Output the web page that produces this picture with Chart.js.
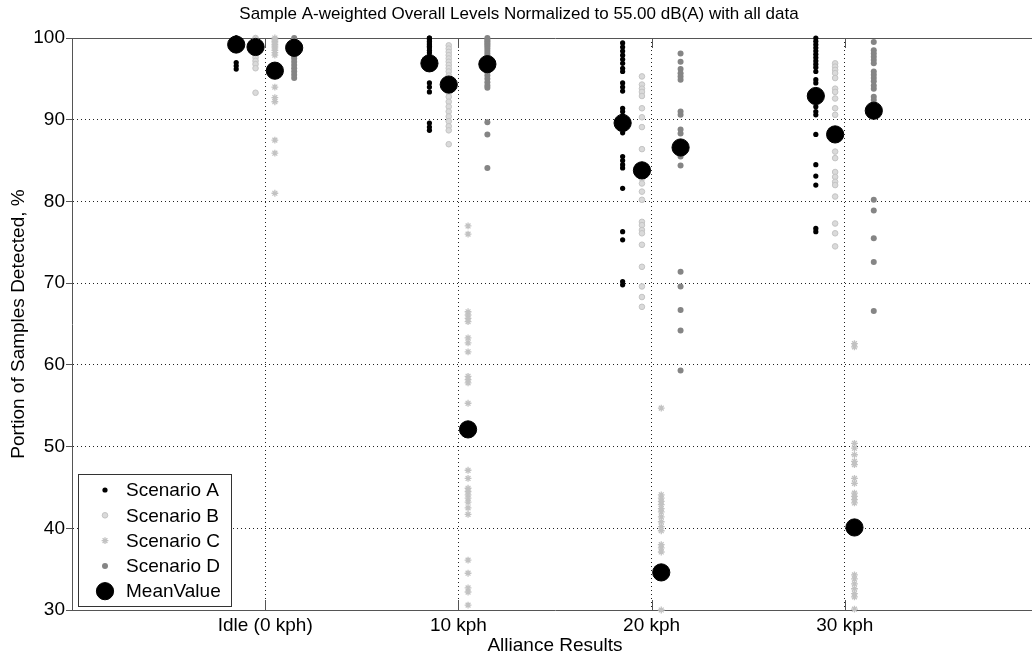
<!DOCTYPE html>
<html>
<head>
<meta charset="utf-8">
<title>Sample A-weighted Overall Levels</title>
<script src="https://cdn.jsdelivr.net/npm/chart.js@4.4.1/dist/chart.umd.min.js"></script>
<style>
  html, body { margin: 0; padding: 0; background: #fff; overflow: hidden; }
</style>
</head>
<body>
<canvas id="myChart" width="1110" height="660"></canvas>
<script>
// categorias del eje x
var catLabels = ['Idle (0 kph)', '10 kph', '20 kph', '30 kph'];
var catPos = [1, 2, 3, 4];
var yTicks = [30, 40, 50, 60, 70, 80, 90, 100];

// valores, un array por categoria
var scenarioA = [
  [100, 100, 100, 99.9, 99.8, 99.6, 99.5, 99.3, 99.1, 98.9, 98.7, 98.5, 97.0, 96.6, 96.2],
  [100, 100, 99.8, 99.6, 99.4, 99.2, 99.0, 98.8, 98.5, 98.2, 97.8, 97.4, 94.5, 94.0, 93.4, 89.6, 89.1, 88.7],
  [99.4, 98.9, 98.4, 97.9, 97.4, 96.9, 96.3, 95.9, 94.5, 94.0, 93.5, 91.4, 91.0, 90.5, 89.6, 88.9, 88.4, 85.5, 85.0, 84.5, 84.1, 81.6, 76.3, 75.3, 70.2, 69.8],
  [100, 99.6, 99.2, 98.8, 98.4, 98.0, 97.6, 97.2, 96.8, 96.4, 95.9, 94.9, 94.5, 92.9, 92.2, 91.6, 91.0, 90.6, 88.2, 84.5, 83.1, 82.0, 76.7, 76.3]
];
var scenarioB = [
  [100, 99.9, 99.7, 99.5, 99.3, 99.1, 98.9, 98.6, 98.3, 98.0, 97.6, 97.2, 96.8, 96.3, 93.3],
  [99.1, 98.7, 98.3, 97.9, 97.5, 97.1, 96.7, 96.3, 95.9, 95.4, 94.9, 94.4, 93.9, 93.3, 92.8, 92.2, 91.6, 91.0, 90.4, 89.8, 89.2, 88.7, 87.0],
  [95.3, 94.3, 93.8, 93.4, 92.9, 91.4, 90.3, 89.1, 86.4, 84.5, 83.5, 82.8, 82.2, 81.2, 80.2, 77.5, 77.1, 76.5, 76.1, 74.7, 72.0, 69.6, 68.3, 67.1],
  [96.9, 96.5, 96.1, 95.7, 95.1, 93.8, 93.4, 92.6, 91.4, 90.6, 88.1, 86.1, 85.3, 83.6, 83.0, 82.4, 82.0, 80.6, 77.3, 76.1, 74.5]
];
var scenarioC = [
  [100, 99.8, 99.6, 99.4, 99.2, 99.0, 98.8, 98.5, 98.2, 97.9, 94.0, 92.7, 92.2, 87.5, 85.9, 81.0],
  [77.0, 76.0, 66.5, 66.1, 65.7, 65.3, 63.3, 62.7, 61.6, 58.6, 58.2, 57.8, 55.3, 47.1, 46.1, 44.9, 44.5, 44.1, 43.7, 43.2, 42.5, 41.7, 36.1, 34.5, 32.7, 32.2, 30.6],
  [54.7, 44.1, 43.7, 43.3, 42.9, 42.4, 42.0, 41.4, 40.8, 40.2, 39.7, 38.0, 37.6, 37.1, 34.6, 30.0],
  [62.6, 62.2, 50.4, 49.8, 49.0, 48.2, 47.8, 46.1, 45.5, 44.3, 43.9, 43.5, 43.1, 34.3, 33.8, 33.2, 32.6, 32.0, 31.6, 30.1]
];
var scenarioD = [
  [100, 99.8, 99.6, 99.3, 99.0, 98.7, 98.4, 98.1, 97.8, 97.5, 97.1, 96.7, 96.3, 95.9, 95.5, 95.1],
  [100, 99.8, 99.6, 99.4, 99.2, 99.0, 98.7, 98.4, 98.1, 97.8, 97.5, 97.2, 96.9, 96.6, 96.2, 95.8, 95.4, 95.0, 94.6, 94.2, 93.9, 89.7, 88.2, 84.1],
  [98.1, 97.1, 96.2, 95.7, 95.3, 94.9, 91.0, 90.6, 88.8, 88.3, 87.3, 85.5, 84.4, 71.4, 69.6, 66.7, 64.2, 59.3],
  [99.5, 98.5, 98.1, 97.7, 97.3, 96.9, 95.9, 95.5, 95.1, 94.7, 94.2, 93.8, 92.8, 92.4, 91.2, 80.2, 78.9, 75.5, 72.6, 66.6]
];

// medias por escenario (Idle, 10, 20, 30)
var meanA = [99.2, 96.9, 89.6, 92.9];
var meanB = [98.9, 94.3, 83.8, 88.2];
var meanC = [96.0, 52.1, 34.6, 40.1];
var meanD = [98.8, 96.8, 86.6, 91.1];

// desplazamiento de cada escenario dentro de la categoria
var offsets = [-0.15, -0.05, 0.05, 0.15];

var fontFam = '"Liberation Sans", Arial, Helvetica, sans-serif';
Chart.defaults.font.family = fontFam;
Chart.defaults.font.size = 19;
Chart.defaults.color = '#000';

cloud = (groups, k) => {
  let pts = [];
  groups.forEach((vals, c) => {
    vals.forEach((v) => pts.push({ x: catPos[c] + offsets[k], y: v }));
  });
  return pts;
}

meanPoints = () => {
  let pts = [];
  [meanA, meanB, meanC, meanD].forEach((m, k) => {
    m.forEach((v, c) => pts.push({ x: catPos[c] + offsets[k], y: v }));
  });
  return pts;
}

var datasets = [
  { label: 'Scenario A', data: cloud(scenarioA, 0), pointStyle: 'circle', pointRadius: 2.6,
    backgroundColor: '#000', borderColor: '#000', borderWidth: 0, order: 4 },
  { label: 'Scenario B', data: cloud(scenarioB, 1), pointStyle: 'circle', pointRadius: 2.8,
    backgroundColor: '#dadada', borderColor: '#c4c4c4', borderWidth: 1, order: 3 },
  { label: 'Scenario C', data: cloud(scenarioC, 2), pointStyle: 'star', pointRadius: 3.4,
    backgroundColor: '#c8c8c8', borderColor: '#c2c2c2', borderWidth: 1.3, order: 2 },
  { label: 'Scenario D', data: cloud(scenarioD, 3), pointStyle: 'circle', pointRadius: 3,
    backgroundColor: '#858585', borderColor: '#858585', borderWidth: 0, order: 1 },
  { label: 'MeanValue', data: meanPoints(), pointStyle: 'circle', pointRadius: 8.6,
    backgroundColor: '#000', borderColor: '#000', borderWidth: 1, order: 0 }
];
datasets.forEach((ds) => { ds.pointHoverRadius = ds.pointRadius; ds.clip = false; });

// ticks hacia dentro en el eje x (abajo y arriba)
var innerTicks = {
  id: 'innerTicks',
  afterDraw(chart) {
    let ctx = chart.ctx, area = chart.chartArea, x = chart.scales.x;
    ctx.save();
    ctx.strokeStyle = '#555';
    ctx.lineWidth = 1;
    catPos.forEach((v) => {
      let px = Math.round(x.getPixelForValue(v)) + 0.5;
      ctx.beginPath();
      ctx.moveTo(px, area.bottom);
      ctx.lineTo(px, area.bottom - 10);
      ctx.moveTo(px, area.top);
      ctx.lineTo(px, area.top + 10);
      ctx.stroke();
    });
    ctx.restore();
  }
};

// leyenda dentro del area del grafico, abajo a la izquierda
var boxLegend = {
  id: 'boxLegend',
  afterDraw(chart) {
    let ctx = chart.ctx, area = chart.chartArea;
    let w = 153, h = 132, rowH = 25.3;
    let x0 = Math.round(area.left + 6), y0 = Math.round(area.bottom - 4 - h);
    ctx.save();
    ctx.fillStyle = '#fff';
    ctx.fillRect(x0, y0, w, h);
    ctx.strokeStyle = '#333';
    ctx.lineWidth = 1;
    ctx.strokeRect(x0 + 0.5, y0 + 0.5, w, h);
    ctx.font = '19px ' + fontFam;
    ctx.textBaseline = 'middle';
    chart.data.datasets.forEach((ds, i) => {
      let y = y0 + 16 + i * rowH;
      ctx.fillStyle = ds.backgroundColor;
      ctx.strokeStyle = ds.borderColor;
      ctx.lineWidth = ds.borderWidth;
      Chart.helpers.drawPoint(ctx, {
        pointStyle: ds.pointStyle, radius: ds.pointRadius, borderWidth: ds.borderWidth, rotation: 0
      }, x0 + 27, y);
      ctx.fillStyle = '#000';
      ctx.fillText(ds.label, x0 + 48, y + 1);
    });
    ctx.restore();
  }
};

var ctx = document.getElementById('myChart').getContext('2d');
var chart = new Chart(ctx, {
  type: 'scatter',
  data: { datasets: datasets },
  plugins: [innerTicks, boxLegend],
  options: {
    responsive: false,
    animation: false,
    devicePixelRatio: 1,
    layout: { padding: { left: 0, right: 72, top: 0, bottom: 0 } },
    plugins: {
      legend: { display: false },
      tooltip: { enabled: false },
      title: {
        display: true,
        text: 'Sample A-weighted Overall Levels Normalized to 55.00 dB(A) with all data',
        font: { size: 17, weight: 'normal' },
        color: '#000',
        padding: { top: 3.8, bottom: 13.8 }
      }
    },
    scales: {
      x: {
        type: 'linear',
        min: 0,
        max: 5,
        afterBuildTicks: (s) => { s.ticks = catPos.map((v) => ({ value: v })); },
        afterFit: (s) => { s.height = 50; },
        ticks: {
          autoSkip: false,
          maxRotation: 0,
          padding: 4,
          color: '#000',
          callback: (v) => catLabels[catPos.indexOf(v)]
        },
        grid: { color: '#222', drawTicks: false, lineWidth: 1 },
        border: { display: true, color: '#555', width: 1, dash: [1, 3] },
        title: {
          display: true,
          text: 'Alliance Results',
          color: '#000',
          font: { size: 19 },
          padding: { top: 0, bottom: 3 }
        }
      },
      y: {
        min: 30,
        max: 100,
        afterBuildTicks: (s) => { s.ticks = yTicks.map((v) => ({ value: v })); },
        afterFit: (s) => { s.width = 72; },
        ticks: { padding: 1, color: '#000' },
        grid: {
          color: (c) => c.tick && c.tick.value === 100 ? '#555' : (c.tick && c.tick.value === 30 ? 'rgba(0,0,0,0)' : '#222'),
          tickColor: '#555',
          tickLength: 6,
          lineWidth: 1
        },
        border: {
          display: true, color: '#555', width: 1,
          dash: (c) => c.tick && c.tick.value === 100 ? [] : [1, 3]
        },
        title: {
          display: true,
          text: 'Portion of Samples Detected, %',
          color: '#000',
          font: { size: 19 },
          padding: { top: 7, bottom: 0 }
        }
      }
    }
  }
});
</script>
</body>
</html>
